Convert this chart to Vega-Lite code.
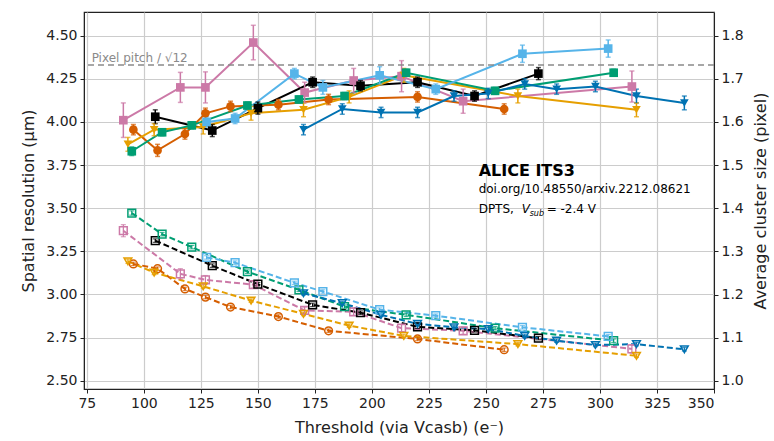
{
  "$schema": "https://vega.github.io/schema/vega-lite/v6.json",
  "width": 630,
  "height": 377,
  "autosize": {"type": "none"},
  "padding": {"left": 84, "top": 12, "right": 60, "bottom": 52},
  "background": "white",
  "config": {
    "font": "DejaVu Sans",
    "view": {"stroke": "#222", "strokeWidth": 1.2},
    "axis": {
      "labelFont": "DejaVu Sans", "labelFontSize": 14, "labelColor": "#222",
      "titleFont": "DejaVu Sans", "titleFontSize": 16, "titleFontWeight": "normal", "titleColor": "#222",
      "tickColor": "#222", "tickSize": 4, "domainColor": "#222", "labelPadding": 3,
      "gridColor": "#cccccc", "gridWidth": 1.2
    }
  },
  "datasets": {
    "res": [
      {"s": "pink", "x": 91, "y": 4.01, "e": 0.1}, {"s": "pink", "x": 116, "y": 4.2, "e": 0.087}, {"s": "pink", "x": 127, "y": 4.2, "e": 0.09}, {"s": "pink", "x": 148, "y": 4.46, "e": 0.1}, {"s": "pink", "x": 170.5, "y": 4.17, "e": 0.06}, {"s": "pink", "x": 192, "y": 4.24, "e": 0.07}, {"s": "pink", "x": 213, "y": 4.265, "e": 0.09}, {"s": "pink", "x": 240, "y": 4.12, "e": 0.07}, {"s": "pink", "x": 314, "y": 4.205, "e": 0.09},
      {"s": "black", "x": 105, "y": 4.03, "e": 0.04}, {"s": "black", "x": 130, "y": 3.95, "e": 0.035}, {"s": "black", "x": 150, "y": 4.08, "e": 0.035}, {"s": "black", "x": 174, "y": 4.23, "e": 0.03}, {"s": "black", "x": 195, "y": 4.21, "e": 0.03}, {"s": "black", "x": 220, "y": 4.23, "e": 0.03}, {"s": "black", "x": 245, "y": 4.15, "e": 0.03}, {"s": "black", "x": 273, "y": 4.28, "e": 0.035},
      {"s": "vermilion", "x": 95.4, "y": 3.955, "e": 0.03}, {"s": "vermilion", "x": 106, "y": 3.835, "e": 0.035}, {"s": "vermilion", "x": 118, "y": 3.93, "e": 0.03}, {"s": "vermilion", "x": 127, "y": 4.05, "e": 0.03}, {"s": "vermilion", "x": 138, "y": 4.09, "e": 0.03}, {"s": "vermilion", "x": 159, "y": 4.1, "e": 0.03}, {"s": "vermilion", "x": 181, "y": 4.13, "e": 0.03}, {"s": "vermilion", "x": 220, "y": 4.145, "e": 0.03}, {"s": "vermilion", "x": 258, "y": 4.075, "e": 0.03},
      {"s": "orange", "x": 93, "y": 3.87, "e": 0.04}, {"s": "orange", "x": 104.5, "y": 3.955, "e": 0.035}, {"s": "orange", "x": 126, "y": 3.97, "e": 0.04}, {"s": "orange", "x": 147, "y": 4.05, "e": 0.04}, {"s": "orange", "x": 170, "y": 4.07, "e": 0.04}, {"s": "orange", "x": 190, "y": 4.145, "e": 0.035}, {"s": "orange", "x": 214, "y": 4.27, "e": 0.04}, {"s": "orange", "x": 264, "y": 4.15, "e": 0.04}, {"s": "orange", "x": 316, "y": 4.07, "e": 0.04},
      {"s": "green", "x": 94.7, "y": 3.83, "e": 0.025}, {"s": "green", "x": 108, "y": 3.94, "e": 0.02}, {"s": "green", "x": 121, "y": 3.98, "e": 0.02}, {"s": "green", "x": 145.4, "y": 4.095, "e": 0.02}, {"s": "green", "x": 168, "y": 4.13, "e": 0.02}, {"s": "green", "x": 188, "y": 4.15, "e": 0.02}, {"s": "green", "x": 215, "y": 4.285, "e": 0.02}, {"s": "green", "x": 254, "y": 4.18, "e": 0.02}, {"s": "green", "x": 306, "y": 4.285, "e": 0.02},
      {"s": "sky", "x": 127.5, "y": 4.0, "e": 0.03}, {"s": "sky", "x": 140, "y": 4.02, "e": 0.03}, {"s": "sky", "x": 166, "y": 4.28, "e": 0.03}, {"s": "sky", "x": 178.5, "y": 4.2, "e": 0.04}, {"s": "sky", "x": 203.4, "y": 4.27, "e": 0.05}, {"s": "sky", "x": 228, "y": 4.19, "e": 0.03}, {"s": "sky", "x": 266, "y": 4.395, "e": 0.05}, {"s": "sky", "x": 303.6, "y": 4.425, "e": 0.05},
      {"s": "blue", "x": 170, "y": 3.955, "e": 0.03}, {"s": "blue", "x": 187, "y": 4.075, "e": 0.03}, {"s": "blue", "x": 204, "y": 4.055, "e": 0.03}, {"s": "blue", "x": 220, "y": 4.055, "e": 0.03}, {"s": "blue", "x": 236, "y": 4.15, "e": 0.03}, {"s": "blue", "x": 251, "y": 4.165, "e": 0.03}, {"s": "blue", "x": 267, "y": 4.22, "e": 0.03}, {"s": "blue", "x": 281, "y": 4.19, "e": 0.03}, {"s": "blue", "x": 298, "y": 4.205, "e": 0.03}, {"s": "blue", "x": 316, "y": 4.15, "e": 0.04}, {"s": "blue", "x": 337, "y": 4.11, "e": 0.04}
    ],
    "cs": [
      {"s": "pink", "x": 91, "y": 1.348, "e": 0.014}, {"s": "pink", "x": 116, "y": 1.248, "e": 0.012}, {"s": "pink", "x": 127, "y": 1.234, "e": 0.01}, {"s": "pink", "x": 148, "y": 1.223, "e": 0.008}, {"s": "pink", "x": 170.5, "y": 1.163, "e": 0.008}, {"s": "pink", "x": 192, "y": 1.16, "e": 0.008}, {"s": "pink", "x": 213, "y": 1.122, "e": 0.008}, {"s": "pink", "x": 240, "y": 1.116, "e": 0.008}, {"s": "pink", "x": 314, "y": 1.074, "e": 0.01},
      {"s": "black", "x": 105, "y": 1.325, "e": 0.004}, {"s": "black", "x": 130, "y": 1.267, "e": 0.004}, {"s": "black", "x": 150, "y": 1.224, "e": 0.004}, {"s": "black", "x": 174, "y": 1.176, "e": 0.004}, {"s": "black", "x": 195, "y": 1.158, "e": 0.004}, {"s": "black", "x": 220, "y": 1.125, "e": 0.004}, {"s": "black", "x": 245, "y": 1.117, "e": 0.004}, {"s": "black", "x": 273, "y": 1.099, "e": 0.004},
      {"s": "vermilion", "x": 95.4, "y": 1.271, "e": 0.004}, {"s": "vermilion", "x": 106, "y": 1.26, "e": 0.004}, {"s": "vermilion", "x": 118, "y": 1.213, "e": 0.004}, {"s": "vermilion", "x": 127, "y": 1.194, "e": 0.004}, {"s": "vermilion", "x": 138, "y": 1.171, "e": 0.004}, {"s": "vermilion", "x": 159, "y": 1.149, "e": 0.004}, {"s": "vermilion", "x": 181, "y": 1.116, "e": 0.004}, {"s": "vermilion", "x": 220, "y": 1.097, "e": 0.004}, {"s": "vermilion", "x": 258, "y": 1.072, "e": 0.004},
      {"s": "orange", "x": 93, "y": 1.277, "e": 0.005}, {"s": "orange", "x": 104.5, "y": 1.251, "e": 0.005}, {"s": "orange", "x": 126, "y": 1.219, "e": 0.004}, {"s": "orange", "x": 147, "y": 1.186, "e": 0.004}, {"s": "orange", "x": 170, "y": 1.155, "e": 0.004}, {"s": "orange", "x": 190, "y": 1.128, "e": 0.004}, {"s": "orange", "x": 214, "y": 1.104, "e": 0.004}, {"s": "orange", "x": 264, "y": 1.085, "e": 0.004}, {"s": "orange", "x": 316, "y": 1.058, "e": 0.004},
      {"s": "green", "x": 94.7, "y": 1.389, "e": 0.005}, {"s": "green", "x": 108, "y": 1.34, "e": 0.004}, {"s": "green", "x": 121, "y": 1.31, "e": 0.004}, {"s": "green", "x": 145.4, "y": 1.253, "e": 0.004}, {"s": "green", "x": 168, "y": 1.211, "e": 0.004}, {"s": "green", "x": 188, "y": 1.172, "e": 0.004}, {"s": "green", "x": 215, "y": 1.153, "e": 0.004}, {"s": "green", "x": 254, "y": 1.122, "e": 0.004}, {"s": "green", "x": 306, "y": 1.093, "e": 0.004},
      {"s": "sky", "x": 127.5, "y": 1.286, "e": 0.004}, {"s": "sky", "x": 140, "y": 1.274, "e": 0.004}, {"s": "sky", "x": 166, "y": 1.227, "e": 0.004}, {"s": "sky", "x": 178.5, "y": 1.207, "e": 0.004}, {"s": "sky", "x": 203.4, "y": 1.165, "e": 0.004}, {"s": "sky", "x": 228, "y": 1.151, "e": 0.004}, {"s": "sky", "x": 266, "y": 1.124, "e": 0.004}, {"s": "sky", "x": 303.6, "y": 1.103, "e": 0.004},
      {"s": "blue", "x": 170, "y": 1.203, "e": 0.004}, {"s": "blue", "x": 187, "y": 1.18, "e": 0.004}, {"s": "blue", "x": 204, "y": 1.153, "e": 0.004}, {"s": "blue", "x": 220, "y": 1.132, "e": 0.004}, {"s": "blue", "x": 236, "y": 1.124, "e": 0.004}, {"s": "blue", "x": 251, "y": 1.12, "e": 0.004}, {"s": "blue", "x": 267, "y": 1.104, "e": 0.004}, {"s": "blue", "x": 281, "y": 1.093, "e": 0.004}, {"s": "blue", "x": 298, "y": 1.083, "e": 0.004}, {"s": "blue", "x": 316, "y": 1.085, "e": 0.004}, {"s": "blue", "x": 337, "y": 1.073, "e": 0.004}
    ]
  },
  "layer": [
    {
      "layer": [
        {
          "data": {"name": "res"},
          "layer": [
            {
              "mark": {"type": "line", "strokeWidth": 2},
              "encoding": {
                "x": {"field": "x", "type": "quantitative", "scale": {"domain": [73.75, 350], "nice": false, "zero": false}, "axis": {"values": [75, 100, 125, 150, 175, 200, 225, 250, 275, 300, 325, 350], "title": "Threshold (via Vcasb) (e⁻)", "grid": true, "titlePadding": 9}},
                "y": {"field": "y", "type": "quantitative", "scale": {"domain": [2.452, 4.637], "nice": false, "zero": false}, "axis": {"values": [2.5, 2.75, 3.0, 3.25, 3.5, 3.75, 4.0, 4.25, 4.5], "format": ".2f", "title": "Spatial resolution (µm)", "orient": "left", "grid": true, "titlePadding": 9}},
                "color": {"field": "s", "type": "nominal", "legend": null, "scale": {"domain": ["pink", "black", "vermilion", "orange", "green", "sky", "blue"], "range": ["#CC79A7", "#000000", "#D55E00", "#E69F00", "#009E73", "#56B4E9", "#0072B2"]}},
                "detail": {"field": "s"}
              }
            },
            {
              "mark": {"type": "errorbar", "ticks": true, "thickness": 1.5},
              "encoding": {
                "x": {"field": "x", "type": "quantitative"},
                "y": {"field": "y", "type": "quantitative", "title": "Spatial resolution (µm)"},
                "yError": {"field": "e"},
                "color": {"field": "s", "type": "nominal", "legend": null}
              }
            },
            {
              "mark": {"type": "point", "filled": true, "opacity": 1, "size": 75},
              "encoding": {
                "x": {"field": "x", "type": "quantitative"},
                "y": {"field": "y", "type": "quantitative", "title": "Spatial resolution (µm)"},
                "color": {"field": "s", "type": "nominal", "legend": null},
                "shape": {"field": "s", "type": "nominal", "legend": null, "scale": {"domain": ["pink", "black", "vermilion", "orange", "green", "sky", "blue"], "range": ["square", "square", "circle", "triangle-down", "square", "square", "triangle-down"]}}
              }
            }
          ]
        },
        {
          "data": {"values": [{"v": 4.33}]},
          "mark": {"type": "rule", "color": "#8a8a8a", "strokeWidth": 1.6, "strokeDash": [6, 4]},
          "encoding": {"y": {"field": "v", "type": "quantitative", "title": "Spatial resolution (µm)"}}
        },
        {
          "data": {"values": [{"x": 77.1, "y": 4.345, "t": "Pixel pitch / √12"}]},
          "mark": {"type": "text", "align": "left", "baseline": "alphabetic", "fontSize": 12, "color": "#8a8a8a"},
          "encoding": {"x": {"field": "x", "type": "quantitative"}, "y": {"field": "y", "type": "quantitative", "title": "Spatial resolution (µm)"}, "text": {"field": "t"}}
        },
        {
          "data": {"values": [{"x": 246.8, "y": 3.684, "t": "ALICE ITS3"}]},
          "mark": {"type": "text", "align": "left", "baseline": "alphabetic", "fontSize": 16, "fontWeight": "bold", "color": "#000"},
          "encoding": {"x": {"field": "x", "type": "quantitative"}, "y": {"field": "y", "type": "quantitative", "title": "Spatial resolution (µm)"}, "text": {"field": "t"}}
        },
        {
          "data": {"values": [{"x": 246.8, "y": 3.588, "t": "doi.org/10.48550/arxiv.2212.08621"}, {"x": 246.8, "y": 3.472, "t": "DPTS,"}]},
          "mark": {"type": "text", "align": "left", "baseline": "alphabetic", "fontSize": 12, "color": "#000"},
          "encoding": {"x": {"field": "x", "type": "quantitative"}, "y": {"field": "y", "type": "quantitative", "title": "Spatial resolution (µm)"}, "text": {"field": "t"}}
        },
        {
          "data": {"values": [{"x": 246.8, "y": 3.472, "t": "V"}]},
          "mark": {"type": "text", "align": "left", "baseline": "alphabetic", "fontSize": 12, "fontStyle": "italic", "color": "#000", "dx": 43},
          "encoding": {"x": {"field": "x", "type": "quantitative"}, "y": {"field": "y", "type": "quantitative", "title": "Spatial resolution (µm)"}, "text": {"field": "t"}}
        },
        {
          "data": {"values": [{"x": 246.8, "y": 3.472, "t": "sub"}]},
          "mark": {"type": "text", "align": "left", "baseline": "alphabetic", "fontSize": 8, "fontStyle": "italic", "color": "#000", "dx": 51, "dy": 3},
          "encoding": {"x": {"field": "x", "type": "quantitative"}, "y": {"field": "y", "type": "quantitative", "title": "Spatial resolution (µm)"}, "text": {"field": "t"}}
        },
        {
          "data": {"values": [{"x": 246.8, "y": 3.472, "t": "= -2.4 V"}]},
          "mark": {"type": "text", "align": "left", "baseline": "alphabetic", "fontSize": 12, "color": "#000", "dx": 68},
          "encoding": {"x": {"field": "x", "type": "quantitative"}, "y": {"field": "y", "type": "quantitative", "title": "Spatial resolution (µm)"}, "text": {"field": "t"}}
        }
      ]
    },
    {
      "data": {"name": "cs"},
      "layer": [
        {
          "mark": {"type": "line", "strokeWidth": 2, "strokeDash": [6, 3]},
          "encoding": {
            "x": {"field": "x", "type": "quantitative"},
            "y": {"field": "y", "type": "quantitative", "scale": {"domain": [0.981, 1.855], "nice": false, "zero": false}, "axis": {"orient": "right", "values": [1.0, 1.1, 1.2, 1.3, 1.4, 1.5, 1.6, 1.7, 1.8], "format": ".1f", "title": "Average cluster size (pixel)", "grid": false, "titleAngle": 270, "titleBaseline": "top", "titlePadding": 9}},
            "color": {"field": "s", "type": "nominal", "legend": null},
            "detail": {"field": "s"}
          }
        },
        {
          "mark": {"type": "errorbar", "ticks": true, "thickness": 1.2},
          "encoding": {
            "x": {"field": "x", "type": "quantitative"},
            "y": {"field": "y", "type": "quantitative", "title": "Average cluster size (pixel)"},
            "yError": {"field": "e"},
            "color": {"field": "s", "type": "nominal", "legend": null}
          }
        },
        {
          "mark": {"type": "point", "filled": false, "opacity": 1, "size": 60, "strokeWidth": 1.5, "fill": "white", "fillOpacity": 0},
          "encoding": {
            "x": {"field": "x", "type": "quantitative"},
            "y": {"field": "y", "type": "quantitative", "title": "Average cluster size (pixel)"},
            "color": {"field": "s", "type": "nominal", "legend": null},
            "shape": {"field": "s", "type": "nominal", "legend": null}
          }
        }
      ]
    }
  ],
  "resolve": {"scale": {"y": "independent"}, "axis": {"y": "independent"}}
}
